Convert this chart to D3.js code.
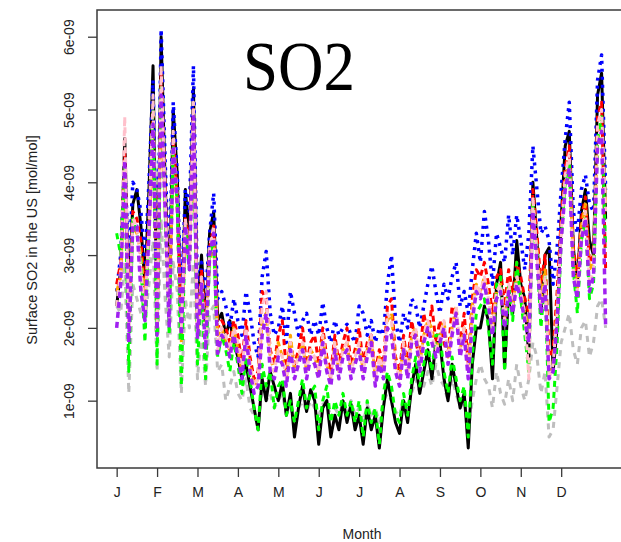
<!DOCTYPE html>
<html>
<head>
<meta charset="utf-8">
<script src="https://cdn.jsdelivr.net/npm/d3@7"></script>
<style>
  body { margin: 0; background: #fff; }
  svg { display: block; }
</style>
</head>
<body>
<div id="chart"></div>
<script>
// values in units of 1e-09 mol/mol, one point every 3 days from Jan 1
const stepDays = 3;
const monthLabels = ["J", "F", "M", "A", "M", "J", "J", "A", "S", "O", "N", "D"];
const monthTickDays = [0, 30, 60, 90, 120, 150, 180, 210, 240, 270, 300, 330];
const yTicks = [1, 2, 3, 4, 5, 6];

const gray = [2.3, 2.2, 2.9, 1.1, 2.6, 2.4, 2.2, 2.1, 2.6, 3.2,
  1.4, 3.5, 2.4, 1.6, 2.9, 2.5, 1.1, 2.4, 2.0, 2.9,
  1.3, 2.0, 1.2, 2.2, 2.3, 1.4, 1.5, 1.0, 1.2, 1.4,
  1.1, 1.0, 1.3, 0.9, 0.8, 0.65, 1.2, 1.0, 1.1, 0.9,
  1.0, 1.1, 0.8, 0.9, 0.75, 0.9, 1.0, 0.85, 1.0, 0.9,
  0.8, 0.95, 1.0, 0.75, 0.9, 0.8, 0.95, 0.85, 1.0, 0.8,
  0.9, 0.7, 0.95, 0.8, 0.9, 0.7, 1.0, 1.1, 1.0, 0.85,
  0.8, 1.0, 0.9, 1.1, 1.3, 1.1, 1.2, 1.4, 1.2, 1.5,
  1.3, 1.2, 1.0, 1.3, 1.1, 0.9, 1.0, 0.6, 1.0, 1.3,
  1.5, 1.3, 1.2, 0.9, 1.4, 1.1, 0.95, 1.3, 1.0, 1.5,
  1.2, 1.0, 1.3, 1.8, 1.6, 1.1, 1.4, 0.5, 0.6, 1.2,
  1.8, 2.0, 2.2, 1.7, 1.5, 2.0, 2.1, 1.6, 1.8, 2.3, 2.4, 2.0];

const black = [2.3, 2.8, 4.6, 2.4, 3.7, 3.9, 3.4, 2.6, 3.9, 5.6,
  2.0, 6.0, 4.0, 2.4, 5.0, 4.1, 1.9, 3.9, 3.2, 5.3,
  2.2, 3.0, 2.0, 3.3, 3.6, 2.1, 2.2, 1.9, 2.1, 1.8,
  1.6, 1.3, 1.5, 1.2, 0.9, 0.6, 1.3, 1.0, 1.4, 1.2,
  1.0, 1.25, 0.8, 1.1, 0.5, 0.9, 1.2, 0.85, 1.15, 1.0,
  0.4, 0.9, 1.0, 0.5, 0.8, 0.6, 1.0, 0.7, 0.95, 0.6,
  0.8, 0.4, 0.9, 0.6, 0.8, 0.35, 0.9, 1.3, 1.0, 0.7,
  0.55, 1.0, 0.7, 1.2, 1.5, 1.1, 1.4, 1.7, 1.3, 1.8,
  1.8, 1.3, 1.0, 1.5, 1.2, 0.9, 1.1, 0.35, 1.5, 2.0,
  2.0, 2.3, 2.1, 1.3, 2.6, 2.9, 1.45, 2.5, 2.2, 3.2,
  2.6, 2.4, 1.6, 4.0, 3.2, 2.2, 3.0, 3.1, 1.4, 2.0,
  3.5, 4.5, 4.7, 3.1, 2.6, 3.6, 3.9, 3.2, 3.0, 5.2, 5.5, 3.5];

const blue = [2.5, 3.0, 4.3, 2.8, 4.0, 3.9, 3.6, 2.9, 4.0, 5.4,
  2.3, 6.1, 4.3, 2.6, 5.1, 4.1, 2.3, 3.9, 3.6, 5.6,
  2.4, 2.9, 2.4, 3.3, 3.85, 2.4, 2.5, 2.3, 2.0, 2.4,
  2.1, 1.9, 2.5, 2.2, 1.8, 1.6, 2.7, 3.05, 2.2, 1.9,
  2.0, 2.3, 1.8, 2.5, 2.2, 1.9, 2.1, 2.2, 1.9, 2.1,
  1.9, 2.35, 2.0, 1.8, 2.1, 1.9, 2.0, 2.05, 1.9, 1.8,
  2.3, 2.2, 1.9, 2.1, 1.8, 2.0, 1.9, 2.6, 3.0, 2.1,
  1.8, 2.2, 2.0, 2.4, 2.3, 2.0, 2.3, 2.6, 2.85, 2.5,
  2.2, 2.6, 2.4, 2.7, 2.9, 2.3, 2.5, 2.2, 2.8, 3.3,
  2.9, 3.6, 3.2, 2.6, 3.3, 3.1, 2.9, 3.55, 3.0, 3.55,
  3.2, 2.8, 3.3, 4.5, 3.9, 3.3, 3.4, 3.2, 2.6, 3.1,
  3.9, 4.6, 5.1, 3.6, 3.3, 3.9, 4.1, 3.7, 3.6, 5.4, 5.75, 3.9];

const red = [2.6, 2.9, 4.4, 2.2, 3.6, 3.5, 3.2, 2.5, 3.5, 5.0,
  2.1, 5.5, 3.9, 2.3, 4.6, 3.8, 2.0, 3.5, 3.1, 5.0,
  2.0, 2.8, 2.0, 3.1, 3.4, 2.0, 2.1, 2.0, 1.8, 2.1,
  1.9, 1.5, 2.1, 1.6, 1.3, 1.4, 2.5, 2.4, 1.7, 1.5,
  1.9, 2.1, 1.4, 1.8, 1.5, 1.7, 2.0, 1.5, 1.8, 1.9,
  1.5, 2.0, 1.6, 1.4, 1.9, 1.5, 1.8, 2.0, 1.5, 1.7,
  2.0, 1.5, 1.8, 1.9, 1.4, 1.7, 1.5, 2.3, 2.4, 1.6,
  1.4, 1.9, 1.5, 2.1, 1.8, 1.6, 2.2, 1.9, 2.3, 1.8,
  2.1, 1.8, 1.6, 2.3, 2.1, 1.8, 2.2, 1.5, 2.4, 2.8,
  2.7, 2.9, 2.6, 2.2, 2.7, 2.8, 2.3, 2.8, 2.5, 2.9,
  2.7, 2.4, 2.2, 3.9, 3.3, 2.6, 3.0, 1.6, 1.7, 2.5,
  3.5, 4.2, 4.5, 3.1, 2.7, 3.5, 3.8, 2.9, 3.0, 4.9, 5.1, 2.8];

const orange = [2.5, 2.7, 4.2, 2.0, 3.4, 3.3, 3.0, 2.4, 3.3, 4.7,
  2.0, 5.2, 3.7, 2.2, 4.4, 3.6, 1.8, 3.3, 3.0, 4.7,
  1.9, 2.7, 1.9, 2.9, 3.2, 1.9, 2.0, 1.8, 1.7, 2.0,
  1.7, 1.4, 1.9, 1.5, 1.2, 1.3, 2.1, 2.2, 1.6, 1.4,
  1.8, 1.6, 1.3, 1.9, 1.4, 1.6, 1.8, 1.4, 1.7, 1.6,
  1.4, 1.9, 1.5, 1.3, 1.8, 1.4, 1.7, 1.8, 1.4, 1.6,
  1.8, 1.4, 1.7, 1.9, 1.3, 1.6, 1.4, 2.1, 2.2, 1.5,
  1.3, 1.8, 1.4, 1.9, 2.0, 1.5, 1.9, 2.1, 2.0, 1.7,
  1.9, 2.1, 1.6, 2.0, 2.3, 1.7, 2.0, 1.4, 2.3, 2.6,
  2.5, 2.7, 2.4, 2.0, 2.5, 2.6, 2.1, 2.6, 2.3, 2.7,
  2.5, 2.2, 2.0, 3.7, 3.1, 2.4, 2.8, 1.4, 1.5, 2.3,
  3.3, 4.0, 4.3, 2.9, 2.5, 3.4, 3.7, 2.8, 2.9, 4.6, 4.8, 3.7];

const green = [3.3, 3.0, 4.2, 1.4, 3.5, 3.3, 2.9, 1.8, 3.4, 5.0,
  1.5, 5.3, 3.6, 1.9, 4.5, 3.7, 1.2, 3.4, 2.8, 4.8,
  1.5, 2.6, 1.3, 3.0, 3.2, 1.6, 1.9, 1.7, 1.4, 1.8,
  1.5, 1.1, 1.6, 1.3, 0.9, 0.6, 1.5, 1.2, 1.4, 0.9,
  1.2, 1.3, 0.8, 1.0, 0.7, 1.0, 1.3, 0.9, 1.1, 1.2,
  0.6, 1.0, 1.2, 0.7, 1.0, 0.8, 1.1, 0.8, 1.0, 0.7,
  1.0, 0.5, 1.0, 0.7, 0.9, 0.4, 1.1, 1.4, 1.2, 0.8,
  0.7, 1.1, 0.8, 1.3, 1.6, 1.2, 1.5, 1.8, 1.4, 1.9,
  1.9, 1.4, 1.1, 1.6, 1.3, 1.0, 1.2, 0.5, 1.6, 2.2,
  2.3, 2.4, 2.0, 1.5, 2.6, 2.7, 1.4, 2.6, 2.1, 2.9,
  2.4, 1.9, 1.4, 3.7, 3.0, 2.0, 2.7, 0.7, 0.9, 1.8,
  3.2, 4.0, 4.3, 2.8, 2.2, 3.2, 3.5, 2.4, 2.6, 4.6, 4.9, 3.1];

const pink = [2.3, 2.8, 4.9, 2.0, 3.5, 3.4, 2.8, 2.2, 3.4, 5.2,
  2.0, 5.6, 3.8, 2.1, 4.7, 3.8, 2.0, 3.5, 2.9, 5.1,
  1.9, 2.7, 1.8, 3.1, 3.4, 1.7, 2.0, 1.9, 1.7, 2.0,
  1.8, 1.4, 2.0, 1.5, 1.2, 1.3, 2.3, 2.5, 1.6, 1.4,
  1.7, 1.6, 1.3, 1.8, 1.4, 1.6, 1.8, 1.4, 1.7, 1.6,
  1.4, 1.9, 1.5, 1.3, 1.8, 1.4, 1.7, 1.8, 1.4, 1.6,
  1.8, 1.4, 1.7, 1.9, 1.3, 1.6, 1.4, 2.2, 2.1, 1.5,
  1.3, 1.8, 1.4, 1.9, 2.0, 1.5, 1.9, 2.1, 1.9, 1.7,
  1.9, 2.1, 1.6, 2.0, 2.3, 1.7, 2.0, 1.4, 2.2, 2.6,
  2.5, 2.7, 2.4, 2.0, 2.5, 2.6, 2.1, 2.6, 2.3, 2.7,
  2.5, 2.2, 1.3, 3.8, 3.0, 2.3, 2.7, 1.3, 1.5, 2.2,
  3.3, 4.1, 4.4, 2.8, 2.5, 3.3, 3.6, 2.6, 2.8, 4.8, 5.0, 3.6];

const purple = [2.0, 2.6, 4.3, 1.8, 3.4, 3.4, 2.5, 2.1, 3.3, 4.8,
  1.9, 5.2, 3.6, 2.0, 4.5, 3.7, 1.9, 3.4, 2.8, 4.9,
  1.85, 2.6, 1.7, 3.0, 3.3, 1.65, 1.9, 1.8, 1.6, 1.9,
  1.6, 1.3, 1.9, 1.4, 1.1, 1.2, 1.9, 2.2, 1.4, 1.3,
  1.6, 1.5, 1.2, 1.7, 1.3, 1.5, 1.7, 1.3, 1.6, 1.5,
  1.3, 1.8, 1.4, 1.2, 1.7, 1.3, 1.6, 1.7, 1.3, 1.5,
  1.7, 1.3, 1.6, 1.8, 1.2, 1.5, 1.3, 2.0, 1.9, 1.4,
  1.2, 1.7, 1.3, 1.8, 1.9, 1.4, 1.8, 2.0, 1.8, 1.6,
  1.8, 2.0, 1.5, 1.9, 2.2, 1.6, 1.9, 1.3, 2.1, 2.5,
  2.4, 2.6, 2.3, 1.9, 2.4, 2.5, 2.0, 2.5, 2.2, 2.6,
  2.4, 2.1, 1.8, 3.6, 2.9, 2.2, 2.6, 1.3, 1.4, 2.1,
  3.2, 3.9, 4.2, 2.7, 2.4, 3.2, 3.5, 2.5, 2.7, 4.5, 4.7, 2.0];

// drawing order, last one on top
const series = [
  {values: gray,   color: "#bebebe", dash: "6,6", width: 3},
  {values: black,  color: "#000000", dash: null,  width: 3},
  {values: blue,   color: "#0000ff", dash: "3,5", width: 3.5},
  {values: red,    color: "#ff0000", dash: "6,4", width: 3},
  {values: orange, color: "#ffa500", dash: "6,4", width: 3},
  {values: green,  color: "#00ff00", dash: "6,5", width: 3},
  {values: pink,   color: "#ffc0cb", dash: "6,4", width: 3},
  {values: purple, color: "#a020f0", dash: "6,4", width: 3.5}
];

const width = 621, height = 542;
const plot = {left: 97, right: 628, top: 10, bottom: 468};

const svg = d3.select("#chart").append("svg")
  .attr("width", width).attr("height", height);

const x = d3.scaleLinear().domain([-14.6, 379.6]).range([plot.left, plot.right]);
const y = d3.scaleLinear().domain([0.075, 6.367]).range([plot.bottom, plot.top]);

svg.append("clipPath").attr("id", "plotClip")
  .append("rect")
  .attr("x", plot.left).attr("y", plot.top)
  .attr("width", plot.right - plot.left).attr("height", plot.bottom - plot.top);

const line = d3.line()
  .x((d, i) => x(i * stepDays))
  .y(d => y(d));

const lines = svg.append("g").attr("clip-path", "url(#plotClip)");
series.forEach(s => {
  lines.append("path")
    .attr("d", line(s.values))
    .attr("fill", "none")
    .attr("stroke", s.color)
    .attr("stroke-width", s.width)
    .attr("stroke-dasharray", s.dash)
    .attr("stroke-linejoin", "round");
});

// frame
svg.append("rect")
  .attr("x", plot.left).attr("y", plot.top)
  .attr("width", plot.right - plot.left).attr("height", plot.bottom - plot.top)
  .attr("fill", "none")
  .attr("stroke", "#3a3a3a")
  .attr("stroke-width", 1.5);

// x axis
const xAxis = svg.append("g")
  .attr("transform", `translate(0,${plot.bottom})`)
  .call(d3.axisBottom(x)
    .tickValues(monthTickDays)
    .tickFormat((d, i) => monthLabels[i])
    .tickSize(9)
    .tickPadding(10));
xAxis.select(".domain").remove();

// y axis, labels turned to run along the axis
const yAxis = svg.append("g")
  .attr("transform", `translate(${plot.left},0)`)
  .call(d3.axisLeft(y)
    .tickValues(yTicks)
    .tickFormat(d => d + "e-09")
    .tickSize(9));
yAxis.select(".domain").remove();
yAxis.selectAll("text")
  .attr("x", null).attr("dy", null).attr("y", null)
  .attr("text-anchor", "middle")
  .attr("transform", "translate(-23,0) rotate(-90)");

svg.selectAll(".tick line").attr("stroke", "#3a3a3a").attr("stroke-width", 1.3);
svg.selectAll(".tick text")
  .attr("font-family", "Liberation Sans, Arial, sans-serif")
  .attr("font-size", "14px")
  .attr("fill", "#222");

// axis titles
svg.append("text")
  .attr("x", 362).attr("y", 539)
  .attr("text-anchor", "middle")
  .attr("font-family", "Liberation Sans, Arial, sans-serif")
  .attr("font-size", "14px")
  .attr("fill", "#222")
  .text("Month");

svg.append("text")
  .attr("transform", "translate(37,240) rotate(-90)")
  .attr("text-anchor", "middle")
  .attr("font-family", "Liberation Sans, Arial, sans-serif")
  .attr("font-size", "14.5px")
  .attr("fill", "#222")
  .text("Surface SO2 in the US [mol/mol]");

// big label
svg.append("text")
  .attr("x", 243).attr("y", 90)
  .attr("font-family", "Liberation Serif, serif")
  .attr("font-size", "70px")
  .attr("textLength", 112)
  .attr("lengthAdjust", "spacingAndGlyphs")
  .attr("fill", "#000")
  .text("SO2");
</script>
</body>
</html>
